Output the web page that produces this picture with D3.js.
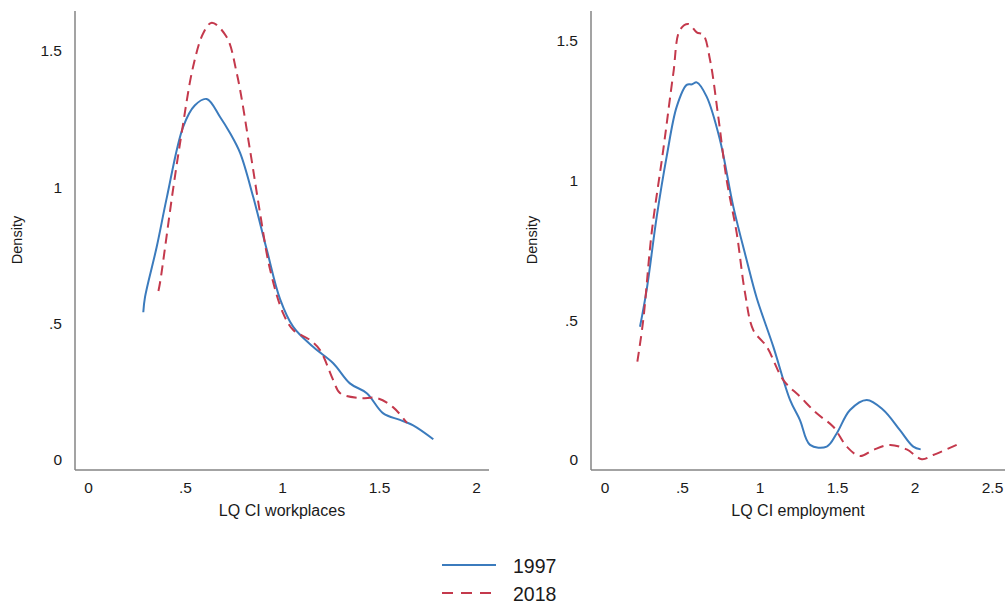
<!DOCTYPE html>
<html>
<head>
<meta charset="utf-8">
<script src="https://cdn.jsdelivr.net/npm/d3@7"></script>
<style>
  body { margin: 0; background: #fff; }
  text { font-family: "Liberation Sans", Arial, sans-serif; fill: #1a1a1a; }
</style>
</head>
<body>
<script>
// density estimates: [LQ value, density]
var work1997 = [[0.285,0.542],[0.294,0.598],[0.354,0.781],[0.407,0.965],[0.49,1.221],[0.55,1.30],[0.612,1.324],
  [0.68,1.259],[0.732,1.199],[0.784,1.126],[0.851,0.966],[0.922,0.770],[0.99,0.590],[1.058,0.488],[1.16,0.415],
  [1.264,0.355],[1.35,0.281],[1.437,0.245],[1.522,0.171],[1.608,0.147],[1.676,0.127],[1.78,0.076]];
var work2018 = [[0.363,0.62],[0.371,0.649],[0.44,1.0],[0.483,1.2],[0.542,1.443],[0.594,1.565],[0.638,1.604],
  [0.714,1.552],[0.767,1.418],[0.835,1.137],[0.887,0.905],[0.938,0.700],[1.006,0.538],[1.058,0.477],[1.144,0.44],
  [1.196,0.403],[1.264,0.293],[1.3,0.245],[1.402,0.227],[1.49,0.227],[1.572,0.194],[1.644,0.136]];
var emp1997 = [[0.229,0.477],[0.272,0.609],[0.337,0.871],[0.401,1.086],[0.466,1.265],[0.53,1.343],[0.565,1.345],[0.595,1.352],
  [0.659,1.301],[0.745,1.146],[0.831,0.907],[0.917,0.716],[0.982,0.580],[1.089,0.406],[1.197,0.215],[1.261,0.143],
  [1.326,0.054],[1.434,0.048],[1.498,0.095],[1.584,0.179],[1.692,0.215],[1.799,0.179],[1.906,0.107],[1.992,0.048],[2.04,0.038]];
var emp2018 = [[0.212,0.352],[0.25,0.501],[0.304,0.812],[0.379,1.11],[0.444,1.384],[0.487,1.54],[0.541,1.561],
  [0.595,1.531],[0.637,1.522],[0.681,1.432],[0.734,1.229],[0.788,1.003],[0.853,0.812],[0.906,0.600],[0.96,0.465],
  [1.046,0.406],[1.154,0.286],[1.261,0.227],[1.369,0.167],[1.476,0.119],[1.563,0.048],[1.648,0.014],[1.734,0.036],
  [1.842,0.054],[1.95,0.038],[2.047,0.003],[2.121,0.018],[2.272,0.054]];

var yTicks = [0, 0.5, 1, 1.5];
var workTicks = [0, 0.5, 1, 1.5, 2];
var empTicks = [0, 0.5, 1, 1.5, 2, 2.5];
var years = ["1997", "2018"];

var blue = "#3b7bbd", red = "#c4394c";
var fmt = function(v) { return String(v).replace(/^0\./, "."); };

var svg = d3.select("body").append("svg")
    .attr("width", 1006)
    .attr("height", 606);

function panel(opt) {
  var x = d3.scaleLinear().domain([0, opt.xMax]).range(opt.xr);
  var y = d3.scaleLinear().domain([0, 1.5]).range(opt.yr);
  var g = svg.append("g");

  // axis lines
  g.append("line")
      .attr("x1", opt.axisX).attr("x2", opt.axisX)
      .attr("y1", 11).attr("y2", 470)
      .attr("stroke", "#858585").attr("stroke-width", 1.5);
  g.append("line")
      .attr("x1", opt.axisX).attr("x2", opt.xEnd)
      .attr("y1", 470).attr("y2", 470)
      .attr("stroke", "#858585").attr("stroke-width", 1.5);

  var ya = g.append("g")
      .attr("transform", "translate(" + (opt.axisX - 13) + ",0)")
      .call(d3.axisLeft(y).tickValues(yTicks).tickFormat(fmt).tickSize(0).tickPadding(0));
  ya.select(".domain").remove();
  ya.selectAll("text").style("font-size", "15.5px").style("font-family", "Liberation Sans, Arial, sans-serif").attr("fill", "#1a1a1a");

  var xa = g.append("g")
      .attr("transform", "translate(0,480)")
      .call(d3.axisBottom(x).tickValues(opt.ticks).tickFormat(fmt).tickSize(0).tickPadding(2));
  xa.select(".domain").remove();
  xa.selectAll("text").style("font-size", "15.5px").style("font-family", "Liberation Sans, Arial, sans-serif").attr("fill", "#1a1a1a");

  g.append("text")
      .attr("x", opt.titleX).attr("y", 516)
      .attr("text-anchor", "middle")
      .style("font-size", "16px")
      .text(opt.title);
  g.append("text")
      .attr("transform", "translate(" + opt.densX + ",240) rotate(-90)")
      .attr("text-anchor", "middle")
      .style("font-size", "14.5px")
      .text("Density");

  var line = d3.line()
      .x(function(d) { return x(d[0]); })
      .y(function(d) { return y(d[1]); })
      .curve(d3.curveCatmullRom.alpha(0.5));

  g.append("path").datum(opt.s1)
      .attr("d", line).attr("fill", "none")
      .attr("stroke", blue).attr("stroke-width", 2);
  g.append("path").datum(opt.s2)
      .attr("d", line).attr("fill", "none")
      .attr("stroke", red).attr("stroke-width", 2)
      .attr("stroke-dasharray", "10,6");
}

panel({ xMax: 2, xr: [88, 476], yr: [460, 51], axisX: 75, xEnd: 489, ticks: workTicks,
        title: "LQ CI workplaces", titleX: 282, densX: 22, s1: work1997, s2: work2018 });
panel({ xMax: 2.5, xr: [604.5, 992], yr: [460, 41], axisX: 591, xEnd: 1005, ticks: empTicks,
        title: "LQ CI employment", titleX: 798, densX: 537, s1: emp1997, s2: emp2018 });

// legend
var leg = svg.append("g").selectAll("g")
    .data(years)
    .enter()
    .append("g")
    .attr("transform", function(d, i) { return "translate(0," + (565 + i * 28) + ")"; });
leg.append("line")
    .attr("x1", 442).attr("x2", 496)
    .attr("stroke", function(d, i) { return i ? red : blue; })
    .attr("stroke-width", 2)
    .attr("stroke-dasharray", function(d, i) { return i ? "11,8" : null; });
leg.append("text")
    .attr("x", 513).attr("y", 8)
    .style("font-size", "19.5px")
    .text(function(d) { return d; });
</script>
</body>
</html>
